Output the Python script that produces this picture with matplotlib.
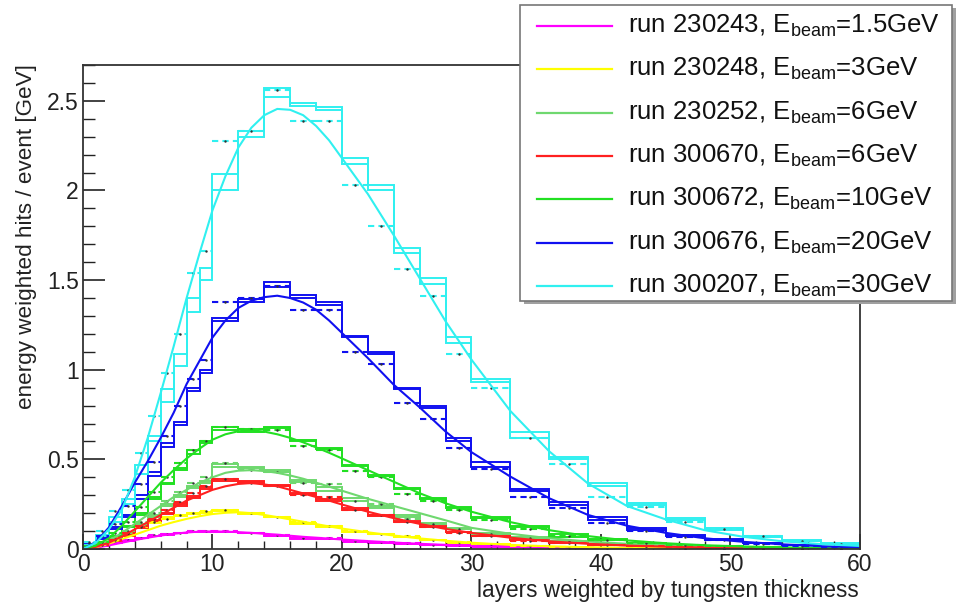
import matplotlib.pyplot as plt
import numpy as np
from matplotlib.patches import Rectangle
from matplotlib.ticker import MultipleLocator

plt.rcParams['font.family'] = ['Liberation Sans', 'DejaVu Sans']
plt.rcParams['mathtext.fontset'] = 'custom'
plt.rcParams['mathtext.rm'] = 'Liberation Sans'
plt.rcParams['mathtext.it'] = 'Liberation Sans'

# layer bins weighted by tungsten thickness (1x, 2x, 3x)
edges = [0, 1, 2, 3, 4, 5, 6, 7, 8, 9, 10, 12, 14, 16, 18, 20, 22, 24, 26, 28, 30,
         33, 36, 39, 42, 45, 48, 51, 54, 57, 60]
fit_x = [0, 1, 2, 3, 4, 5, 6, 7, 8, 9, 10, 11, 12, 13, 14, 15, 16, 17, 18, 19, 20,
         22, 24, 26, 28, 30, 33, 36, 39, 42, 45, 48, 51, 54, 57, 60]

labels = ['run 230243, E$_{\\rm beam}$=1.5GeV', 'run 230248, E$_{\\rm beam}$=3GeV',
          'run 230252, E$_{\\rm beam}$=6GeV', 'run 300670, E$_{\\rm beam}$=6GeV',
          'run 300672, E$_{\\rm beam}$=10GeV', 'run 300676, E$_{\\rm beam}$=20GeV',
          'run 300207, E$_{\\rm beam}$=30GeV']
colors = ['#ff00ff', '#ffff00', '#6fd86f', '#ff2020', '#22e022', '#1010f0', '#30f0f0']

# 1.5 GeV
mag_hist = [0.006, 0.018, 0.033, 0.048, 0.062, 0.074, 0.083, 0.09, 0.097, 0.097, 0.097, 0.09, 0.073, 0.06, 0.056,
            0.041, 0.036, 0.03, 0.024, 0.02, 0.014, 0.009, 0.006, 0.004, 0.003, 0.002, 0.001, 0.001, 0.0005, 0.0003]
mag_hist2 = [0.006, 0.016, 0.031, 0.046, 0.059, 0.071, 0.08, 0.088, 0.094, 0.095, 0.094, 0.087, 0.071, 0.058, 0.053,
             0.04, 0.034, 0.028, 0.023, 0.019, 0.013, 0.009, 0.006, 0.004, 0.003, 0.002, 0.001, 0.001, 0.0005, 0.0003]
mag_pts = [0.007, 0.02, 0.035, 0.05, 0.064, 0.076, 0.085, 0.092, 0.098, 0.098, 0.098, 0.09, 0.08, 0.064, 0.06,
           0.045, 0.038, 0.031, 0.025, 0.021, 0.015, 0.01, 0.006, 0.004, 0.003, 0.002, 0.001, 0.001, 0.0005, 0.0003]
mag_fit = [0, 0.007, 0.02, 0.035, 0.05, 0.063, 0.075, 0.085, 0.092, 0.097, 0.098, 0.097, 0.094, 0.09, 0.085, 0.08,
           0.074, 0.068, 0.063, 0.058, 0.053, 0.044, 0.036, 0.029, 0.023, 0.018, 0.012, 0.008, 0.005, 0.003, 0.002,
           0.001, 0.001, 0.0005, 0.0003, 0.0002]

# 3 GeV
yel_hist = [0.013, 0.03, 0.06, 0.097, 0.12, 0.152, 0.176, 0.19, 0.2, 0.209, 0.218, 0.2, 0.18, 0.143, 0.128,
            0.097, 0.084, 0.069, 0.05, 0.035, 0.027, 0.018, 0.012, 0.008, 0.005, 0.003, 0.002, 0.001, 0.001, 0.0005]
yel_hist2 = [0.012, 0.028, 0.056, 0.09, 0.115, 0.145, 0.168, 0.183, 0.193, 0.202, 0.212, 0.196, 0.176, 0.14, 0.124,
             0.094, 0.081, 0.066, 0.048, 0.034, 0.026, 0.017, 0.011, 0.007, 0.005, 0.003, 0.002, 0.001, 0.001, 0.0005]
yel_pts = [0.013, 0.03, 0.06, 0.09, 0.12, 0.15, 0.17, 0.19, 0.2, 0.21, 0.22, 0.2, 0.18, 0.15, 0.13,
           0.1, 0.085, 0.07, 0.052, 0.037, 0.027, 0.018, 0.012, 0.008, 0.005, 0.003, 0.002, 0.001, 0.001, 0.0005]
yel_fit = [0, 0.01, 0.03, 0.055, 0.08, 0.105, 0.13, 0.15, 0.168, 0.183, 0.195, 0.202, 0.205, 0.2, 0.19, 0.178,
           0.165, 0.152, 0.139, 0.126, 0.114, 0.093, 0.075, 0.059, 0.046, 0.035, 0.023, 0.015, 0.01, 0.006, 0.004,
           0.003, 0.002, 0.001, 0.001, 0.0005]

# 6 GeV (230252)
lgr_hist = [0.01, 0.025, 0.055, 0.09, 0.14, 0.19, 0.25, 0.3, 0.35, 0.38, 0.475, 0.46, 0.441, 0.385, 0.345,
            0.283, 0.24, 0.19, 0.147, 0.119, 0.092, 0.065, 0.045, 0.03, 0.02, 0.013, 0.009, 0.006, 0.004, 0.002]
lgr_hist2 = [0.01, 0.022, 0.05, 0.085, 0.13, 0.18, 0.24, 0.29, 0.34, 0.37, 0.455, 0.45, 0.43, 0.376, 0.325,
             0.265, 0.228, 0.18, 0.14, 0.112, 0.085, 0.06, 0.041, 0.028, 0.018, 0.012, 0.008, 0.005, 0.003, 0.002]
lgr_pts = [0.012, 0.03, 0.06, 0.1, 0.15, 0.2, 0.27, 0.32, 0.37, 0.4, 0.48, 0.44, 0.43, 0.37, 0.36,
           0.27, 0.25, 0.17, 0.14, 0.11, 0.085, 0.06, 0.042, 0.028, 0.018, 0.012, 0.008, 0.005, 0.003, 0.002]
lgr_fit = [0, 0.015, 0.045, 0.09, 0.14, 0.19, 0.24, 0.29, 0.33, 0.37, 0.4, 0.425, 0.437, 0.44, 0.435, 0.425,
           0.41, 0.392, 0.37, 0.348, 0.325, 0.28, 0.24, 0.2, 0.16, 0.118, 0.085, 0.06, 0.042, 0.029, 0.02, 0.013,
           0.009, 0.006, 0.004, 0.002]

# 6 GeV (300670)
red_hist = [0.008, 0.02, 0.045, 0.08, 0.12, 0.16, 0.2, 0.25, 0.296, 0.345, 0.391, 0.38, 0.358, 0.311, 0.278,
            0.227, 0.19, 0.158, 0.128, 0.097, 0.075, 0.05, 0.035, 0.024, 0.016, 0.01, 0.007, 0.004, 0.003, 0.002]
red_hist2 = [0.008, 0.019, 0.042, 0.075, 0.115, 0.155, 0.195, 0.24, 0.285, 0.335, 0.38, 0.372, 0.35, 0.305, 0.27,
             0.22, 0.185, 0.152, 0.123, 0.093, 0.071, 0.048, 0.033, 0.022, 0.015, 0.009, 0.006, 0.004, 0.002, 0.001]
red_pts = [0.01, 0.025, 0.05, 0.09, 0.13, 0.17, 0.22, 0.26, 0.31, 0.35, 0.39, 0.37, 0.35, 0.3, 0.29,
           0.215, 0.19, 0.15, 0.12, 0.09, 0.07, 0.047, 0.033, 0.022, 0.015, 0.009, 0.006, 0.004, 0.002, 0.001]
red_fit = [0, 0.012, 0.035, 0.07, 0.11, 0.15, 0.19, 0.23, 0.27, 0.3, 0.33, 0.35, 0.363, 0.368, 0.36, 0.35,
           0.33, 0.31, 0.29, 0.27, 0.248, 0.208, 0.172, 0.14, 0.112, 0.09, 0.063, 0.043, 0.029, 0.019, 0.013,
           0.008, 0.005, 0.003, 0.002, 0.001]

# 10 GeV
grn_hist = [0.013, 0.032, 0.075, 0.13, 0.2, 0.29, 0.37, 0.45, 0.55, 0.6, 0.665, 0.655, 0.674, 0.6, 0.557,
            0.464, 0.408, 0.333, 0.278, 0.227, 0.171, 0.121, 0.069, 0.05, 0.032, 0.022, 0.014, 0.009, 0.005, 0.003]
grn_hist2 = [0.013, 0.03, 0.07, 0.12, 0.19, 0.28, 0.36, 0.44, 0.53, 0.59, 0.68, 0.67, 0.68, 0.61, 0.565,
             0.47, 0.415, 0.34, 0.285, 0.232, 0.178, 0.127, 0.085, 0.056, 0.036, 0.024, 0.015, 0.01, 0.006, 0.004]
grn_pts = [0.015, 0.04, 0.09, 0.15, 0.236, 0.32, 0.4, 0.48, 0.553, 0.6, 0.68, 0.67, 0.665, 0.572, 0.55,
           0.436, 0.4, 0.306, 0.265, 0.215, 0.16, 0.11, 0.075, 0.05, 0.032, 0.021, 0.014, 0.009, 0.005, 0.003]
grn_fit = [0, 0.02, 0.06, 0.13, 0.21, 0.29, 0.37, 0.44, 0.505, 0.56, 0.61, 0.64, 0.657, 0.662, 0.655, 0.64,
           0.62, 0.595, 0.567, 0.537, 0.505, 0.44, 0.375, 0.311, 0.255, 0.208, 0.15, 0.105, 0.072, 0.048, 0.032,
           0.021, 0.014, 0.009, 0.006, 0.004]

# 20 GeV
blu_hist = [0.03, 0.06, 0.12, 0.19, 0.3, 0.432, 0.59, 0.711, 0.898, 0.996, 1.289, 1.395, 1.49, 1.415, 1.376,
            1.19, 1.099, 0.898, 0.795, 0.618, 0.488, 0.333, 0.264, 0.177, 0.115, 0.078, 0.056, 0.035, 0.022, 0.013]
blu_hist2 = [0.03, 0.055, 0.11, 0.18, 0.28, 0.41, 0.57, 0.69, 0.88, 0.98, 1.27, 1.38, 1.46, 1.4, 1.36,
             1.18, 1.09, 0.89, 0.785, 0.605, 0.46, 0.325, 0.245, 0.163, 0.108, 0.073, 0.052, 0.033, 0.02, 0.012]
blu_pts = [0.035, 0.07, 0.14, 0.24, 0.36, 0.488, 0.63, 0.8, 0.95, 1.056, 1.378, 1.4, 1.465, 1.331, 1.331,
           1.1, 1.03, 0.814, 0.726, 0.563, 0.445, 0.292, 0.227, 0.147, 0.1, 0.068, 0.048, 0.03, 0.019, 0.011]
blu_fit = [0, 0.04, 0.12, 0.24, 0.37, 0.49, 0.62, 0.76, 0.92, 1.05, 1.18, 1.275, 1.345, 1.385, 1.405, 1.413,
           1.4, 1.375, 1.335, 1.275, 1.205, 1.065, 0.916, 0.79, 0.655, 0.54, 0.404, 0.283, 0.19, 0.13, 0.09,
           0.06, 0.04, 0.026, 0.016, 0.01]

# 30 GeV
cya_hist = [0.03, 0.08, 0.18, 0.28, 0.47, 0.63, 0.89, 1.09, 1.4, 1.57, 2.09, 2.33, 2.57, 2.49, 2.465,
            2.18, 2.03, 1.68, 1.51, 1.18, 0.95, 0.655, 0.515, 0.37, 0.255, 0.171, 0.115, 0.073, 0.05, 0.032]
cya_hist2 = [0.03, 0.07, 0.15, 0.25, 0.42, 0.6, 0.82, 1.02, 1.32, 1.5, 2.0, 2.3, 2.52, 2.47, 2.45,
             2.15, 2.0, 1.65, 1.48, 1.15, 0.93, 0.62, 0.5, 0.35, 0.245, 0.16, 0.108, 0.068, 0.046, 0.03]
cya_pts = [0.04, 0.1, 0.21, 0.33, 0.535, 0.74, 0.98, 1.2, 1.54, 1.66, 2.275, 2.33, 2.56, 2.387, 2.387,
           2.03, 1.8, 1.56, 1.413, 1.09, 0.9, 0.618, 0.475, 0.29, 0.236, 0.153, 0.11, 0.07, 0.045, 0.03]
cya_fit = [0, 0.035, 0.11, 0.22, 0.4, 0.62, 0.87, 1.13, 1.4, 1.65, 1.89, 2.08, 2.24, 2.35, 2.42, 2.455,
           2.45, 2.42, 2.36, 2.28, 2.18, 1.98, 1.75, 1.51, 1.27, 1.056, 0.77, 0.545, 0.365, 0.24, 0.165,
           0.105, 0.068, 0.043, 0.027, 0.017]

runs = [(mag_hist, mag_hist2, mag_pts, mag_fit), (yel_hist, yel_hist2, yel_pts, yel_fit),
        (lgr_hist, lgr_hist2, lgr_pts, lgr_fit), (red_hist, red_hist2, red_pts, red_fit),
        (grn_hist, grn_hist2, grn_pts, grn_fit), (blu_hist, blu_hist2, blu_pts, blu_fit),
        (cya_hist, cya_hist2, cya_pts, cya_fit)]

W, H = 958, 605
fig = plt.figure(figsize=(W / 100, H / 100), dpi=100)
ax = fig.add_axes([83 / W, 1 - 549 / H, (860 - 83) / W, (549 - 65) / H])

e = np.array(edges)
centers = 0.5 * (e[1:] + e[:-1])
for (h1, h2, pts, fit), c in zip(runs, colors):
    ax.stairs(h2, edges, baseline=None, color=c, lw=1.4)
    ax.stairs(h1, edges, baseline=None, color=c, lw=1.4)
    ax.hlines(pts, e[:-1], e[1:], colors=c, lw=1.5, linestyles=(0, (3, 2)))
    ax.plot(centers, pts, '.', color='#333333', ms=1.5)
    ax.plot(fit_x, fit, color=c, lw=1.5)

ax.set_xlim(0, 60)
ax.set_ylim(0, 2.7)
ax.xaxis.set_major_locator(MultipleLocator(10))
ax.xaxis.set_minor_locator(MultipleLocator(2))
ax.yaxis.set_major_locator(MultipleLocator(0.5))
ax.yaxis.set_minor_locator(MultipleLocator(0.1))
ax.tick_params(which='both', direction='in', top=False, right=False, labelsize=16.5, colors='#222222')
ax.tick_params(axis='x', which='major', length=11, width=1.2, pad=3)
ax.tick_params(axis='x', which='minor', length=5.5, width=1.0)
ax.tick_params(axis='y', which='major', length=16, width=1.2, pad=3)
ax.tick_params(axis='y', which='minor', length=8.5, width=1.0)
ax.xaxis.set_major_formatter(plt.FuncFormatter(lambda v, p: '%g' % v))
ax.yaxis.set_major_formatter(plt.FuncFormatter(lambda v, p: '%g' % v))
for s in ax.spines.values():
    s.set_linewidth(1.3)
    s.set_color('#333333')

fig.text(859 / W, 1 - 590 / H, 'layers weighted by tungsten thickness', ha='right', va='center',
         fontsize=16.3, color='#222222')
fig.text(27 / W, 1 - 64 / H, 'energy weighted hits / event [GeV]', ha='center', va='top',
         rotation=90, fontsize=16.2, color='#222222')

# legend box drawn in pixel coordinates
lax = fig.add_axes([0, 0, 1, 1], zorder=10)
lax.set_xlim(0, W)
lax.set_ylim(H, 0)
lax.axis('off')
lax.add_patch(Rectangle((524, 8), 432, 296, facecolor='#a0a0a0', edgecolor='none'))
lax.add_patch(Rectangle((520, 5), 432, 296, facecolor='white', edgecolor='#777777', lw=1.2))
for i, (lab, c) in enumerate(zip(labels, colors)):
    y = 26 + i * 43.3
    lax.plot([537, 612], [y, y], color=c, lw=1.6)
    lax.text(628, y + 7, lab, fontsize=18.5, va='baseline', ha='left', color='#111111')

fig.savefig('out.png', dpi=100)
